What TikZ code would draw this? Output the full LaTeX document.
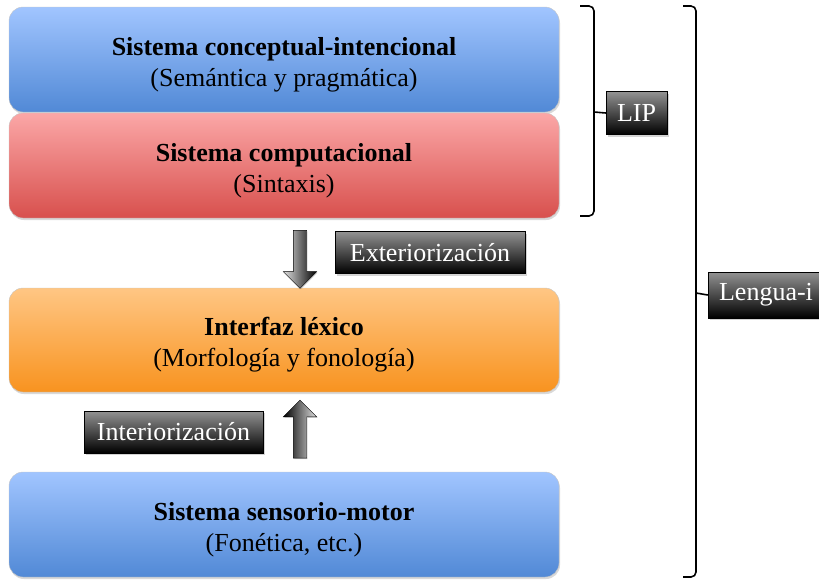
\documentclass[tikz,border=0pt]{standalone}
\usepackage{fontspec}
\setmainfont{Liberation Serif}
\usepackage{xcolor}
\usetikzlibrary{positioning}
\usetikzlibrary{calc}
\usetikzlibrary{shapes.arrows}
\usetikzlibrary{shadows}

\definecolor{azulArriba}{HTML}{A1C5FF}
\definecolor{azulAbajo}{HTML}{5189D6}
\definecolor{rojoArriba}{HTML}{FBA7A7}
\definecolor{rojoAbajo}{HTML}{D8504D}
\definecolor{naranjaArriba}{HTML}{FFC684}
\definecolor{naranjaAbajo}{HTML}{F8931F}

\begin{document}
\begin{tikzpicture}[
	x=1pt, y=-1pt,
	font=\fontsize{26}{31}\selectfont
]
\tikzset{
    sistema/.style = {rounded corners=14pt, draw=gray!45, align=center, minimum width=550pt, minimum height=105pt, inner sep=0pt,
        drop shadow={opacity=0.3, shadow xshift=1pt, shadow yshift=-2pt}},
		azul/.style = {sistema, top color=azulArriba, bottom color=azulAbajo},
		rojo/.style = {sistema, top color=rojoArriba, bottom color=rojoAbajo},
		naranja/.style = {sistema, top color=naranjaArriba, bottom color=naranjaAbajo},
    etiqueta/.style = {draw=black, thin, text=white, top color=gray!85, bottom color=black, minimum height=42pt, inner sep=0pt,
        drop shadow={opacity=0.35, shadow xshift=2pt, shadow yshift=-2pt}},
    flecha/.style = {single arrow, draw=black, thin, inner sep=6.5pt, minimum width=33pt,
        single arrow head extend=10pt, single arrow head indent=0pt, minimum height=58pt,
        drop shadow={opacity=0.3, shadow xshift=1pt, shadow yshift=-1pt}},
    corchete/.style = {draw=black, line width=1.6pt, rounded corners=5pt}
}
\useasboundingbox (0,0) rectangle (819,579);

% cajas de la izquierda
\node[azul] (conc) at (284,59.5) {\rule{0pt}{28pt}\textbf{Sistema conceptual-intencional}\\(Semántica y pragmática)};
\node[rojo] (comp) at (284,165.5) {\rule{0pt}{28pt}\textbf{Sistema computacional}\\(Sintaxis)};
\node[naranja, minimum height=104pt] (lex) at (284,340) {\rule{0pt}{28pt}\textbf{Interfaz léxico}\\(Morfología y fonología)};
\node[azul] (sens) at (284,524.5) {\rule{0pt}{28pt}\textbf{Sistema sensorio-motor}\\(Fonética, etc.)};

% flechas
\node[flecha, rotate=-90, left color=gray!25, right color=black] (abajo) at ($(comp.south)!0.5!(lex.north)+(16,3)$) {};
\node[flecha, rotate=90, left color=black, right color=gray!25] (arriba) at ($(lex.south)!0.5!(sens.north)+(16,0.5)$) {};
\node[etiqueta, minimum width=190pt] (ext) at (430,252.5) {Exteriorización};
\node[etiqueta, minimum width=179pt] (int) at (173.5,432) {Interiorización};

% corchetes
\draw[corchete] (580,6) -- (594,6) -- (594,216) -- (580,216);
\draw[corchete] (683,6) -- (696,6) -- (696,577) -- (683,577);
\coordinate (lipPunta) at (594,112);
\coordinate (lenguaPunta) at (696,293);
\node[etiqueta, minimum width=61pt, minimum height=43pt] (lip) at (636.5,113) {LIP};
\node[etiqueta, minimum width=116pt, minimum height=46pt] (lengua) at (766,295) {Lengua-i};
\draw[line width=1.6pt] (lipPunta) -- (lip.west);
\draw[line width=1.6pt] (lenguaPunta) -- (lengua.west);
\end{tikzpicture}
\end{document}
